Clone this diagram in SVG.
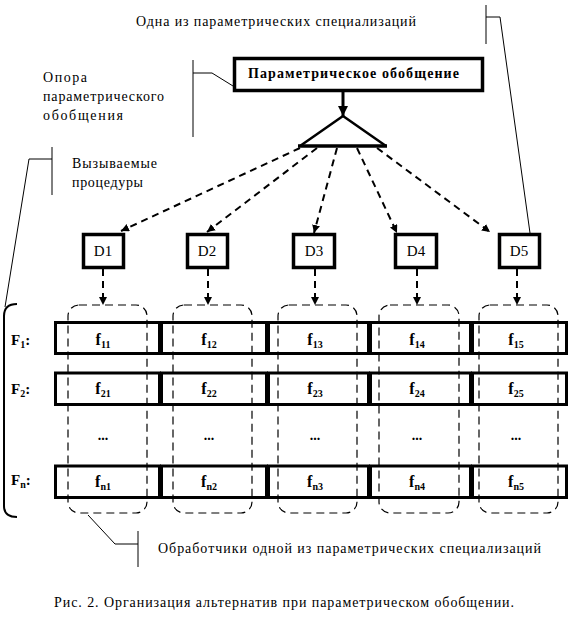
<svg xmlns="http://www.w3.org/2000/svg" width="572" height="622" viewBox="0 0 572 622" font-family="'Liberation Serif', 'DejaVu Serif', 'Times New Roman', serif">
<style>
text{font-family:'Liberation Serif','DejaVu Serif','Times New Roman',serif;fill:#000}
.t{font-size:14px}
.b{font-weight:bold}
.d{font-size:15px}
.thin{stroke:#000;stroke-width:1;fill:none}
.box{stroke:#000;stroke-width:3.5;fill:#fff}
.cell{stroke:#000;stroke-width:3;fill:none}
.grp{stroke:#000;stroke-width:1.2;fill:none;stroke-dasharray:8 5}
.da{stroke:#000;stroke-width:2;fill:none;stroke-dasharray:7 5}
</style>
<defs>
<marker id="ah" viewBox="0 0 10 10" refX="10" refY="5" markerWidth="8" markerHeight="8" markerUnits="userSpaceOnUse" orient="auto">
<path d="M0,0 L10,5 L0,10 z" fill="#000"/>
</marker>
<marker id="ahb" viewBox="0 0 10 10" refX="10" refY="5" markerWidth="10" markerHeight="10" markerUnits="userSpaceOnUse" orient="auto">
<path d="M0,0 L10,5 L0,10 z" fill="#000"/>
</marker>
</defs>

<g id="callouts">
<text class="t" x="136" y="26" textLength="280" lengthAdjust="spacing">Одна из параметрических специализаций</text>
<path class="thin" d="M486,5 L486,44 M486,17 L500,17 L530,233"/>
<text class="t" x="43" y="82" textLength="44" lengthAdjust="spacing">Опора</text>
<text class="t" x="43" y="101" textLength="121" lengthAdjust="spacing">параметрического</text>
<text class="t" x="43" y="120" textLength="80" lengthAdjust="spacing">обобщения</text>
<path class="thin" d="M193,60 L193,137 M193,73 L212,73 L233,86"/>
<text class="t" x="72" y="168" textLength="85" lengthAdjust="spacing">Вызываемые</text>
<text class="t" x="72" y="187" textLength="71" lengthAdjust="spacing">процедуры</text>
<path class="thin" d="M52,147 L52,195 M52,159 L29,159 L5,307"/>
<path d="M17,304 Q4,304 4,316 L4,506 Q4,517 17,517" stroke="#000" stroke-width="2" fill="none"/>
<path class="thin" d="M88,515 L115,544 L138,544 M138,531 L138,567"/>
<text class="t" x="158" y="553" textLength="383" lengthAdjust="spacing">Обработчики одной из параметрических специализаций</text>
<text class="t" x="54" y="607" textLength="460" lengthAdjust="spacing">Рис. 2. Организация альтернатив при параметрическом обобщении.</text>
</g>

<g id="generalization">
<rect class="box" x="234.5" y="58.5" width="248" height="32"/>
<text class="b" x="248" y="78" font-size="14" textLength="211" lengthAdjust="spacing">Параметрическое обобщение</text>
</g>

<g id="switch">
<path d="M343,116 L300,146 M343,116 L386,146" stroke="#000" stroke-width="2.5" fill="none"/>
<path d="M298,146 L387,146" stroke="#000" stroke-width="3.5"/>
</g>

<g id="D1"><rect class="box" x="83.5" y="234.5" width="40" height="33"/><text class="d" x="103" y="256" text-anchor="middle">D1</text></g>
<g id="D2"><rect class="box" x="187.5" y="234.5" width="40" height="33"/><text class="d" x="207" y="256" text-anchor="middle">D2</text></g>
<g id="D3"><rect class="box" x="293.5" y="234.5" width="41" height="33"/><text class="d" x="314" y="256" text-anchor="middle">D3</text></g>
<g id="D4"><rect class="box" x="395.5" y="234.5" width="41" height="33"/><text class="d" x="416" y="256" text-anchor="middle">D4</text></g>
<g id="D5"><rect class="box" x="499.5" y="234.5" width="40" height="33"/><text class="d" x="519" y="256" text-anchor="middle">D5</text></g>

<g id="rows">
<g id="F1">
<text class="b" x="11" y="345" font-size="15">F<tspan font-size="10" dy="3">1</tspan><tspan dy="-3">:</tspan></text>
<rect class="cell" x="55.5" y="322.5" width="104" height="31"/>
<rect class="cell" x="161.5" y="322.5" width="105" height="31"/>
<rect class="cell" x="268.5" y="322.5" width="100" height="31"/>
<rect class="cell" x="370.5" y="322.5" width="100" height="31"/>
<rect class="cell" x="472.5" y="322.5" width="94" height="31"/>
<text class="b" font-size="16" x="103" y="345" text-anchor="middle">f<tspan font-size="10" dy="3">11</tspan></text>
<text class="b" font-size="16" x="209" y="345" text-anchor="middle">f<tspan font-size="10" dy="3">12</tspan></text>
<text class="b" font-size="16" x="315" y="345" text-anchor="middle">f<tspan font-size="10" dy="3">13</tspan></text>
<text class="b" font-size="16" x="417" y="345" text-anchor="middle">f<tspan font-size="10" dy="3">14</tspan></text>
<text class="b" font-size="16" x="516" y="345" text-anchor="middle">f<tspan font-size="10" dy="3">15</tspan></text>
</g>
<g id="F2">
<text class="b" x="11" y="394" font-size="15">F<tspan font-size="10" dy="3">2</tspan><tspan dy="-3">:</tspan></text>
<rect class="cell" x="55.5" y="373" width="104" height="31.5"/>
<rect class="cell" x="161.5" y="373" width="105" height="31.5"/>
<rect class="cell" x="268.5" y="373" width="100" height="31.5"/>
<rect class="cell" x="370.5" y="373" width="100" height="31.5"/>
<rect class="cell" x="472.5" y="373" width="94" height="31.5"/>
<text class="b" font-size="16" x="103" y="394" text-anchor="middle">f<tspan font-size="10" dy="3">21</tspan></text>
<text class="b" font-size="16" x="209" y="394" text-anchor="middle">f<tspan font-size="10" dy="3">22</tspan></text>
<text class="b" font-size="16" x="315" y="394" text-anchor="middle">f<tspan font-size="10" dy="3">23</tspan></text>
<text class="b" font-size="16" x="417" y="394" text-anchor="middle">f<tspan font-size="10" dy="3">24</tspan></text>
<text class="b" font-size="16" x="516" y="394" text-anchor="middle">f<tspan font-size="10" dy="3">25</tspan></text>
</g>
<g id="dots">
<text class="b" font-size="14" x="103" y="440" text-anchor="middle">...</text>
<text class="b" font-size="14" x="209" y="440" text-anchor="middle">...</text>
<text class="b" font-size="14" x="315" y="440" text-anchor="middle">...</text>
<text class="b" font-size="14" x="417" y="440" text-anchor="middle">...</text>
<text class="b" font-size="14" x="516" y="440" text-anchor="middle">...</text>
</g>
<g id="Fn">
<text class="b" x="11" y="485" font-size="15">F<tspan font-size="10" dy="3">n</tspan><tspan dy="-3">:</tspan></text>
<rect class="cell" x="55.5" y="466" width="104" height="31.5"/>
<rect class="cell" x="161.5" y="466" width="105" height="31.5"/>
<rect class="cell" x="268.5" y="466" width="100" height="31.5"/>
<rect class="cell" x="370.5" y="466" width="100" height="31.5"/>
<rect class="cell" x="472.5" y="466" width="94" height="31.5"/>
<text class="b" font-size="16" x="103" y="487" text-anchor="middle">f<tspan font-size="10" dy="3">n1</tspan></text>
<text class="b" font-size="16" x="209" y="487" text-anchor="middle">f<tspan font-size="10" dy="3">n2</tspan></text>
<text class="b" font-size="16" x="315" y="487" text-anchor="middle">f<tspan font-size="10" dy="3">n3</tspan></text>
<text class="b" font-size="16" x="417" y="487" text-anchor="middle">f<tspan font-size="10" dy="3">n4</tspan></text>
<text class="b" font-size="16" x="516" y="487" text-anchor="middle">f<tspan font-size="10" dy="3">n5</tspan></text>
</g>
</g>

<g id="groups">
<rect class="grp" x="68" y="305" width="79" height="208" rx="11"/>
<rect class="grp" x="173" y="305" width="79" height="208" rx="11"/>
<rect class="grp" x="278" y="305" width="79" height="208" rx="11"/>
<rect class="grp" x="379" y="305" width="80" height="208" rx="11"/>
<rect class="grp" x="479" y="305" width="79" height="208" rx="11"/>
</g>

<g id="connectors">
<path d="M343,91 L343,116" stroke="#000" stroke-width="3" marker-end="url(#ahb)"/>
<path class="da" d="M300,148 L121,231" marker-end="url(#ah)"/>
<path class="da" d="M317,148 L207,232" marker-end="url(#ah)"/>
<path class="da" d="M337,148 L314,233" marker-end="url(#ah)"/>
<path class="da" d="M357,148 L397,233" marker-end="url(#ah)"/>
<path class="da" d="M377,148 L490,232" marker-end="url(#ah)"/>
<path class="da" d="M103,269 L103,305" marker-end="url(#ah)"/>
<path class="da" d="M208,269 L208,305" marker-end="url(#ah)"/>
<path class="da" d="M315,269 L315,305" marker-end="url(#ah)"/>
<path class="da" d="M417,269 L417,305" marker-end="url(#ah)"/>
<path class="da" d="M517,269 L517,305" marker-end="url(#ah)"/>
</g>
</svg>
